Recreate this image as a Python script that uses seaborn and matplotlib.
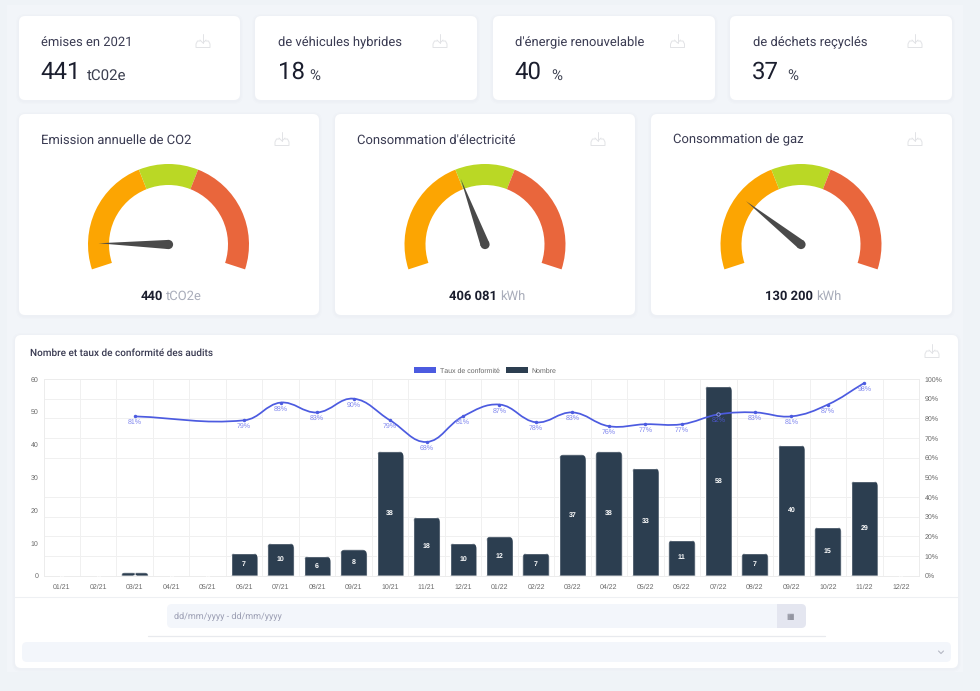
import numpy as np
import pandas as pd
import seaborn as sns
import matplotlib
matplotlib.use("Agg")
import matplotlib.pyplot as plt
from matplotlib.patches import FancyBboxPatch, Rectangle, Polygon, Circle, Patch, PathPatch
from matplotlib.path import Path
from matplotlib.lines import Line2D

# ---------- data ----------
kpi_titles = ["émises en 2021", "de véhicules hybrides", "d'énergie renouvelable", "de déchets reçyclés"]
kpi_values = ["441", "18", "40", "37"]
kpi_units = ["tC02e", "%", "%", "%"]

gauge_titles = ["Emission annuelle de CO2", "Consommation d'électricité", "Consommation de gaz"]
gauge_values = [440, 406081, 130200]
gauge_maxima = [5000, 1000000, 500000]
gauge_labels = ["440", "406 081", "130 200"]
gauge_units = ["tCO2e", "kWh", "kWh"]
gauge_bands = [40, 20, 40]
gauge_colors = ["#FCA502", "#BAD825", "#E9663C"]

months = ["01/21", "02/21", "03/21", "04/21", "05/21", "06/21", "07/21", "08/21", "09/21", "10/21", "11/21", "12/21",
          "01/22", "02/22", "03/22", "04/22", "05/22", "06/22", "07/22", "08/22", "09/22", "10/22", "11/22", "12/22"]
counts = [0, 0, 1, 0, 0, 7, 10, 6, 8, 38, 18, 10, 12, 7, 37, 38, 33, 11, 58, 7, 40, 15, 29, 0]
rates = [None, None, 81, None, None, 79, 88, 83, 90, 79, 68, 81, 87, 78, 83, 76, 77, 77, 82, 83, 81, 87, 98, None]

BG_OUT, BG_IN = "#eff3f7", "#f2f5f9"
DARK_BAR, BLUE = "#2c3e50", "#4c5be0"
TITLE_C, VALUE_C = "#3a3b52", "#1b1e2e"
FONT = ["Roboto", "DejaVu Sans"]
CHART_FONT = ["Liberation Sans", "DejaVu Sans"]

sns.set_theme(style="white")
plt.rcParams["font.family"] = FONT
plt.rcParams["text.hinting"] = "no_hinting"
plt.rcParams["text.hinting_factor"] = 1

W, H = 980, 691
fig = plt.figure(figsize=(W / 100, H / 100), dpi=100, facecolor=BG_OUT)


def px_axes(x0, y0, x1, y1, **kw):
    return fig.add_axes([x0 / W, 1 - y1 / H, (x1 - x0) / W, (y1 - y0) / H], **kw)


ov = fig.add_axes([0, 0, 1, 1], zorder=0)
ov.set_xlim(0, W)
ov.set_ylim(H, 0)
ov.axis("off")


def card(x0, y0, x1, y1, r=6, color="white"):
    for k, a in ((3, 0.010), (1.5, 0.014)):
        ov.add_patch(FancyBboxPatch((x0 - k, y0 - k + 1), x1 - x0 + 2 * k, y1 - y0 + 2 * k,
                                    boxstyle=f"round,pad=0,rounding_size={r + k}", fc="#5a6a80", ec="none", alpha=a))
    ov.add_patch(FancyBboxPatch((x0, y0), x1 - x0, y1 - y0, boxstyle=f"round,pad=0,rounding_size={r}", fc=color, ec="none"))


def dl_icon(cx, cy):
    c = "#e2e3e6"
    ov.add_line(Line2D([cx, cx], [cy - 8, cy + 1], color=c, lw=0.7))
    ov.add_line(Line2D([cx - 3, cx, cx + 3], [cy - 2, cy + 1, cy - 2], color=c, lw=0.7))
    ov.add_line(Line2D([cx - 3, cx - 5.5, cx - 7, cx - 7, cx + 7, cx + 7, cx + 5.5, cx + 3],
                       [cy - 1, cy - 1, cy + 2, cy + 5.5, cy + 5.5, cy + 2, cy - 1, cy - 1], color=c, lw=0.7))


ov.add_patch(Rectangle((7, 5), 956, 667, fc=BG_IN, ec="none"))

# KPI cards
kpi_x = [(19, 240), (255, 477), (493, 715), (730, 952)]
kpi_text_x = [40.5, 278, 515, 752.5]
kpi_unit_x = [86.5, 309, 551, 787.5]
kpi_icon_x = [203, 440, 677.5, 915]
for (x0, x1), tx, ux, ix, t, v, u in zip(kpi_x, kpi_text_x, kpi_unit_x, kpi_icon_x, kpi_titles, kpi_values, kpi_units):
    card(x0, 16, x1, 100)
    ov.text(tx, 42.6, t, fontsize=9.7, color=TITLE_C, va="center", ha="left")
    ov.text(tx - 0.5, 72, v, fontsize=17, color=VALUE_C, va="center", ha="left")
    ov.text(ux, 75.5, u, fontsize=10.6, color="#3c4050", va="center", ha="left")
    dl_icon(ix, 42)

# Gauge cards
g_x = [(19, 319), (335, 635), (651, 952)]
g_cx = [168.5, 485, 801]
g_text_x = [40.5, 356.5, 673]
g_icon_x = [282, 598, 915]
g_val_right = [162.5, 497, 813]
GY, R_OUT, R_WID = 244.5, 80.5, 21
for (x0, x1), cx, tx, ix, vr, t, val, mx, lab, un in zip(g_x, g_cx, g_text_x, g_icon_x, g_val_right, gauge_titles,
                                                        gauge_values, gauge_maxima, gauge_labels, gauge_units):
    card(x0, 114, x1, 315)
    ov.text(tx, 140, t, fontsize=9.7, color=TITLE_C, va="center", ha="left")
    dl_icon(ix, 140)
    ov.text(vr, 296, lab, fontsize=9.2, color=VALUE_C, fontweight="bold", va="center", ha="right")
    ov.text(vr + 3.5, 296.3, un, fontsize=9, color="#a9adba", va="center", ha="left")

    gax = px_axes(cx - R_OUT - 2, GY - R_OUT - 2, cx + R_OUT + 2, GY + R_OUT + 2, zorder=2)
    gax.patch.set_visible(False)
    sweep = 216.0
    hidden = sum(gauge_bands) * (360 - sweep) / sweep
    gax.pie(gauge_bands + [hidden], colors=gauge_colors + ["none"], startangle=198, counterclock=False,
            radius=R_OUT, wedgeprops=dict(width=R_WID, linewidth=0))
    gax.set_xlim(-R_OUT - 2, R_OUT + 2)
    gax.set_ylim(-R_OUT - 2, R_OUT + 2)
    gax.set_aspect("equal")
    gax.axis("off")
    ang = np.deg2rad(198 - sweep * val / mx)
    ux_, uy_ = np.cos(ang), np.sin(ang)
    L, hw = 70, 4.6
    gax.add_patch(Polygon([(L * ux_, L * uy_), (-uy_ * hw, ux_ * hw), (uy_ * hw, -ux_ * hw)], closed=True,
                          fc="#4a4a4a", ec="none", zorder=5))
    gax.add_patch(Circle((0, 0), hw, fc="#4a4a4a", ec="none", zorder=5))

# Audit card
card(15, 335, 958, 668)
ov.text(30, 353, "Nombre et taux de conformité des audits", fontsize=6.85, color=TITLE_C, va="center", ha="left",
        fontweight="medium")
dl_icon(932, 352)
ov.add_line(Line2D([15, 958], [597, 597], color="#eef0f3", lw=0.8))
ov.add_patch(FancyBboxPatch((167, 604), 639, 24, boxstyle="round,pad=0,rounding_size=5", fc="#f3f6fb", ec="none"))
ov.add_patch(FancyBboxPatch((777, 604), 29, 24, boxstyle="round,pad=0,rounding_size=5", fc="#e4e6f0", ec="none"))
ov.add_patch(Rectangle((777, 604), 8, 24, fc="#e4e6f0", ec="none"))
ov.text(174, 617, "dd/mm/yyyy - dd/mm/yyyy", fontsize=6.3, color="#9a9db2", va="center", ha="left")
ov.text(790.5, 617, "▦", fontsize=6, color="#70727f", va="center", ha="center", family=["DejaVu Sans"])
ov.add_line(Line2D([148, 825], [635.5, 635.5], color="#e8eaee", lw=0.9))
ov.add_patch(FancyBboxPatch((22, 642), 929, 20, boxstyle="round,pad=0,rounding_size=5", fc="#f3f6fb", ec="none"))
ov.add_line(Line2D([938.5, 941, 943.5], [651, 653.5, 651], color="#b5b8c4", lw=0.8))

# Combined chart
TICK_C = "#666666"
TS = 5.0
ax = px_axes(43.5, 379, 919, 575.7, zorder=1)
ax.patch.set_visible(False)
df = pd.DataFrame({"mois": months, "nombre": counts, "taux": rates})
sns.barplot(data=df, x="mois", y="nombre", color=DARK_BAR, saturation=1, width=0.74, ax=ax, zorder=2)
n = len(months)
ax.set_xlim(-0.5, n - 0.5)
ax.set_ylim(0, 60)
ax.set_xlabel("")
ax.set_ylabel("")
ax.set_yticks(np.arange(0, 61, 10))
ax.set_yticks(np.arange(0, 61, 6), minor=True)
ax.set_xticks(np.arange(n), labels=months)
ax.set_xticks(np.arange(n + 1) - 0.5, minor=True)
ax.tick_params(axis="x", which="major", length=0, labelsize=TS, labelcolor=TICK_C, pad=6)
ax.tick_params(axis="x", which="minor", length=3, color="#ececec", width=0.7)
ax.tick_params(axis="y", which="major", length=0, labelsize=TS, labelcolor=TICK_C, pad=3.5)
ax.tick_params(axis="y", which="minor", length=0)
for lb in ax.get_xticklabels() + ax.get_yticklabels():
    lb.set_family(CHART_FONT)
ax.grid(which="minor", color="#f0f0f0", lw=0.7)
ax.grid(which="major", visible=False)
ax.set_axisbelow(True)
for s, sp in ax.spines.items():
    sp.set_visible(True)
    sp.set_color("#ececec")
    sp.set_linewidth(0.7)

# rounded tops of the seaborn bars, white value labels
for bar, v in zip(ax.patches, counts):
    x0, w, h = bar.get_x(), bar.get_width(), bar.get_height()
    x1 = x0 + w
    rx = 0.16
    ry = min(1.8, h)
    if h > 0:
        p = Path([(x0, 0), (x0, h - ry), (x0, h), (x0 + rx, h), (x1 - rx, h), (x1, h), (x1, h - ry), (x1, 0), (x0, 0)],
                 [Path.MOVETO, Path.LINETO, Path.CURVE3, Path.CURVE3, Path.LINETO, Path.CURVE3, Path.CURVE3,
                  Path.LINETO, Path.CLOSEPOLY])
        bar.set_clip_path(p, ax.transData)
    ax.text(x0 + w / 2, h / 2, str(v), color="white", fontsize=TS, fontweight="bold", ha="center", va="center",
            family=CHART_FONT, zorder=3)

ax2 = ax.twinx()
ax2.set_zorder(3)
ax2.patch.set_visible(False)
ax2.set_ylim(0, 100)
ax2.set_yticks(np.arange(0, 101, 10), labels=[f"{t}%" for t in range(0, 101, 10)])
ax2.tick_params(axis="y", length=0, labelsize=TS, labelcolor=TICK_C, pad=4.2)
for lb in ax2.get_yticklabels():
    lb.set_family(CHART_FONT)
for sp in ax2.spines.values():
    sp.set_visible(False)

known = df.dropna(subset=["taux"]).copy()
known["pos"] = [months.index(m) for m in known["mois"]]
xs = known["pos"].to_numpy(float)
ys = known["taux"].to_numpy(float)

# smooth tension curve (rendering of the line between the points)
sx, sy = 36.48, 1.967
P = np.column_stack([xs * sx, ys * sy])
verts, codes = [tuple(P[0])], [Path.MOVETO]
t = 0.4
cp_prev, cp_next = [P[0]] * len(P), [P[0]] * len(P)
for i in range(len(P)):
    a, b, c = P[max(i - 1, 0)], P[i], P[min(i + 1, len(P) - 1)]
    d01, d12 = np.hypot(*(b - a)), np.hypot(*(c - b))
    tot = d01 + d12
    cp_prev[i] = b - t * d01 / tot * (c - a)
    cp_next[i] = b + t * d12 / tot * (c - a)
for i in range(len(P) - 1):
    verts += [tuple(cp_next[i]), tuple(cp_prev[i + 1]), tuple(P[i + 1])]
    codes += [Path.CURVE4] * 3
verts = np.array(verts) / [sx, sy]
ax2.add_patch(PathPatch(Path(verts, codes), fc="none", ec=BLUE, lw=1.25, zorder=3))

sns.lineplot(data=known, x="pos", y="taux", ax=ax2, linewidth=0, marker="o", markersize=2.5, color=BLUE,
             markeredgewidth=0, legend=False, zorder=4, errorbar=None)
ax2.set_xlim(-0.5, n - 0.5)
ax2.set_ylim(0, 100)
ax2.set_xlabel("")
ax2.set_ylabel("")
i_hi = months.index("07/22")
ax2.scatter([i_hi], [rates[i_hi]], s=6, fc="#2c3e70", ec="#9aa2ee", lw=0.6, zorder=5)

for px, py in zip(xs, ys):
    on_bar = int(px) == i_hi
    ax2.annotate(f"{int(py)}%", (px, py), xytext=(0, -4.4), textcoords="offset points", ha="center", va="center",
                 fontsize=TS, color="#4a55c8" if on_bar else "#7d84ee", family=CHART_FONT, zorder=6)

handles = [Patch(fc=BLUE, ec="none", label="Taux de conformité"), Patch(fc=DARK_BAR, ec="none", label="Nombre")]
ax2.legend(handles=handles, loc="center", bbox_to_anchor=(485.5 / W, 1 - 370.5 / H), bbox_transform=fig.transFigure,
           ncol=2, frameon=False, handlelength=3.1, handleheight=1.0, handletextpad=0.6,
           columnspacing=0.9, labelcolor=TICK_C, prop=dict(family=CHART_FONT, size=TS), borderpad=0)

fig.savefig("out.png", dpi=100, facecolor=BG_OUT)
